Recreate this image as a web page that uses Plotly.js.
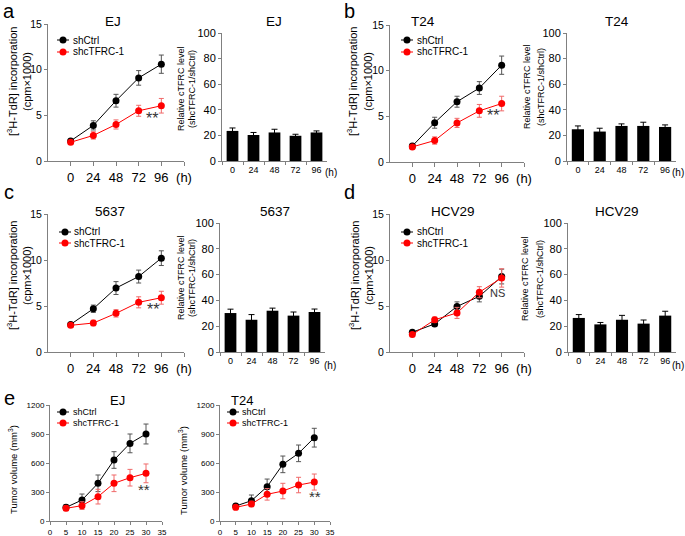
<!DOCTYPE html>
<html><head><meta charset="utf-8">
<script src="https://cdn.plot.ly/plotly-3.0.1.min.js"></script>
<style>html,body{margin:0;padding:0;background:#fff}#c{width:685px;height:536px}</style>
</head><body><div id="c"></div>
<script>
// ---------- data ----------
const hours = [0, 24, 48, 72, 96];
const hourLabels = ["0", "24", "48", "72", "96"];
const days = [5, 10, 15, 20, 25, 30];

const ejCtrl = [2.2, 3.9, 6.6, 9.1, 10.6];
const ejCtrlErr = [0.2, 0.5, 0.7, 0.8, 1.0];
const ejKd = [2.05, 2.8, 4.0, 5.5, 6.05];
const ejKdErr = [0.2, 0.4, 0.5, 0.6, 0.8];

const t24Ctrl = [1.75, 4.3, 6.6, 8.1, 10.6];
const t24CtrlErr = [0.2, 0.6, 0.6, 0.7, 1.0];
const t24Kd = [1.65, 2.35, 4.28, 5.6, 6.4];
const t24KdErr = [0.15, 0.4, 0.5, 0.7, 0.8];

const c5637Ctrl = [3.0, 4.7, 6.95, 8.2, 10.2];
const c5637CtrlErr = [0.2, 0.4, 0.7, 0.7, 0.8];
const c5637Kd = [2.9, 3.15, 4.2, 5.4, 5.9];
const c5637KdErr = [0.2, 0.3, 0.4, 0.6, 0.7];

const hcvCtrl = [2.15, 3.05, 4.95, 6.05, 8.2];
const hcvCtrlErr = [0.2, 0.2, 0.5, 0.6, 0.8];
const hcvKd = [1.9, 3.5, 4.25, 6.5, 8.05];
const hcvKdErr = [0.2, 0.3, 0.6, 0.6, 1.0];

const ejRel = [23.5, 20.3, 22.3, 19.7, 22.3];
const ejRelErr = [2.3, 2.0, 2.5, 1.2, 1.2];
const t24Rel = [24.8, 23, 27.4, 27.4, 26.6];
const t24RelErr = [2.6, 2.6, 1.6, 2.9, 1.6];
const c5637Rel = [30.2, 25, 32, 28.2, 31];
const c5637RelErr = [3, 4, 2, 2.8, 2.3];
const hcvRel = [26.4, 21.4, 25, 22, 28.2];
const hcvRelErr = [2.6, 1.5, 3.4, 2.8, 3.4];

const ejTumCtrl = [141, 217, 390, 631, 803, 900];
const ejTumCtrlErr = [25, 62, 86, 86, 97, 103];
const ejTumKd = [131, 159, 252, 390, 448, 493];
const ejTumKdErr = [25, 40, 76, 86, 86, 97];
const t24TumCtrl = [155, 210, 355, 586, 700, 862];
const t24TumCtrlErr = [20, 59, 79, 86, 86, 97];
const t24TumKd = [141, 176, 276, 310, 372, 403];
const t24TumKdErr = [20, 28, 60, 80, 80, 83];

// ---------- helpers ----------
const W = 685, H = 536;
const FONT = "Liberation Sans, Arial, sans-serif";
const xd = (a, b) => [a / W, b / W];
const yd = (t, b) => [1 - b / H, 1 - t / H];
const AX = "#808080";

const traces = [];
function lineTrace(n, x, y, e, color, ecolor) {
  traces.push({
    type: "scatter", mode: "lines+markers", x: x, y: y,
    xaxis: "x" + n, yaxis: "y" + n, showlegend: false,
    line: {color: color, width: 1},
    marker: {color: color, size: 7},
    error_y: {type: "data", array: e, visible: true, color: ecolor, thickness: 1, width: 2.5}
  });
}
function barTrace(n, y, e) {
  traces.push({
    type: "bar", x: hourLabels, y: y, xaxis: "x" + n, yaxis: "y" + n, showlegend: false,
    marker: {color: "#000"}, width: 0.56,
    error_y: {type: "data", array: e, visible: true, color: "#000", thickness: 1, width: 3}
  });
}

const layout = {
  width: W, height: H, margin: {l: 0, r: 0, t: 0, b: 0},
  paper_bgcolor: "#fff", plot_bgcolor: "rgba(0,0,0,0)",
  font: {family: FONT, color: "#000"},
  showlegend: false, annotations: [], shapes: []
};

function lineAxes(n, x0, x1, yt, yb) {
  layout["xaxis" + n] = {
    domain: xd(x0, x1), anchor: "y" + n, range: [-24, 120],
    tickvals: [0, 24, 48, 72, 96, 120], ticktext: ["0", "24", "48", "72", "96", "(h)"],
    showline: true, linecolor: AX, linewidth: 1, ticks: "outside", ticklen: 4, tickcolor: AX,
    showgrid: false, zeroline: false, tickfont: {size: 13, family: FONT}, fixedrange: true
  };
  layout["yaxis" + n] = {
    domain: yd(yt, yb), anchor: "x" + n, range: [0, 15], tickvals: [0, 5, 10, 15],
    showline: true, linecolor: AX, linewidth: 1, ticks: "outside", ticklen: 3, tickcolor: AX,
    showgrid: false, zeroline: false, tickfont: {size: 10.5, family: FONT}, fixedrange: true
  };
}
function barAxes(n, x0, x1, yt, yb) {
  layout["xaxis" + n] = {
    domain: xd(x0, x1), anchor: "y" + n, type: "category", range: [-0.5, 4.5],
    tickson: "boundaries", showline: true, linecolor: AX, linewidth: 1, ticks: "outside",
    ticklen: 3, tickcolor: AX, showgrid: false, zeroline: false,
    tickfont: {size: 9, family: FONT}, fixedrange: true
  };
  layout["yaxis" + n] = {
    domain: yd(yt, yb), anchor: "x" + n, range: [0, 100], tickvals: [0, 20, 40, 60, 80, 100],
    showline: true, linecolor: AX, linewidth: 1, ticks: "outside", ticklen: 3, tickcolor: AX,
    showgrid: false, zeroline: false, tickfont: {size: 11, family: FONT}, fixedrange: true
  };
}
function tumAxes(n, x0, x1, yt, yb) {
  layout["xaxis" + n] = {
    domain: xd(x0, x1), anchor: "y" + n, range: [0, 35], tickvals: [0, 5, 10, 15, 20, 25, 30, 35],
    showline: true, linecolor: AX, linewidth: 1, ticks: "outside", ticklen: 3, tickcolor: AX,
    showgrid: false, zeroline: false, tickfont: {size: 8, family: FONT}, fixedrange: true
  };
  layout["yaxis" + n] = {
    domain: yd(yt, yb), anchor: "x" + n, range: [0, 1200], tickvals: [0, 300, 600, 900, 1200],
    showline: true, linecolor: AX, linewidth: 1, ticks: "outside", ticklen: 3, tickcolor: AX,
    showgrid: false, zeroline: false, tickfont: {size: 8, family: FONT}, fixedrange: true
  };
}

function ann(x, y, text, size, opts) {
  layout.annotations.push(Object.assign({
    xref: "paper", yref: "paper", x: x / W, y: 1 - y / H, text: text, showarrow: false,
    xanchor: "center", yanchor: "middle", font: {size: size, family: FONT, color: "#000"}
  }, opts || {}));
}
function legend(mx, y1, y2, tx, size) {
  [[y1, "#000", "shCtrl"], [y2, "#ff0000", "shcTFRC-1"]].forEach(([y, c, t]) => {
    layout.shapes.push({type: "line", xref: "paper", yref: "paper", x0: (mx - 6) / W, x1: (mx + 6) / W,
      y0: 1 - y / H, y1: 1 - y / H, line: {color: c, width: 1}});
    layout.shapes.push({type: "circle", xref: "paper", yref: "paper", x0: (mx - 3.5) / W, x1: (mx + 3.5) / W,
      y0: 1 - (y + 3.5) / H, y1: 1 - (y - 3.5) / H, fillcolor: c, line: {color: c, width: 0}});
    ann(tx, y, t, size, {xanchor: "left"});
  });
}

// ---------- panels ----------
const RED = "#ff0000", RERR = "#f06a6a", KERR = "#555";
// a
lineAxes(1, 48, 184, 24, 161);
lineTrace(1, hours, ejCtrl, ejCtrlErr, "#000", KERR);
lineTrace(1, hours, ejKd, ejKdErr, RED, RERR);
barAxes(2, 222, 327, 33, 161);
barTrace(2, ejRel, ejRelErr);
// b
lineAxes(3, 390, 524, 25, 162);
lineTrace(3, hours, t24Ctrl, t24CtrlErr, "#000", KERR);
lineTrace(3, hours, t24Kd, t24KdErr, RED, RERR);
barAxes(4, 567, 676, 33, 161);
barTrace(4, t24Rel, t24RelErr);
// c
lineAxes(5, 48, 184, 214, 352);
lineTrace(5, hours, c5637Ctrl, c5637CtrlErr, "#000", KERR);
lineTrace(5, hours, c5637Kd, c5637KdErr, RED, RERR);
barAxes(6, 220, 325, 223, 352);
barTrace(6, c5637Rel, c5637RelErr);
// d
lineAxes(7, 390, 524, 214, 352);
lineTrace(7, hours, hcvCtrl, hcvCtrlErr, "#000", KERR);
lineTrace(7, hours, hcvKd, hcvKdErr, RED, RERR);
barAxes(8, 568, 676, 223, 352);
barTrace(8, hcvRel, hcvRelErr);
// e
tumAxes(9, 50, 162, 405, 521);
lineTrace(9, days, ejTumCtrl, ejTumCtrlErr, "#000", KERR);
lineTrace(9, days, ejTumKd, ejTumKdErr, RED, RERR);
tumAxes(10, 220, 330, 405, 521);
lineTrace(10, days, t24TumCtrl, t24TumCtrlErr, "#000", KERR);
lineTrace(10, days, t24TumKd, t24TumKdErr, RED, RERR);

// panel letters
ann(9, 11, "a", 20); ann(349, 11, "b", 20); ann(9, 192, "c", 20); ann(349, 192, "d", 20); ann(9, 398, "e", 20);
// titles
ann(113, 22, "EJ", 13.5); ann(274, 22, "EJ", 13.5);
ann(423, 22, "T24", 13.5); ann(617, 21, "T24", 13.5);
ann(110, 212, "5637", 13.5); ann(275, 212, "5637", 13.5);
ann(453, 212, "HCV29", 13.5); ann(617, 212, "HCV29", 13.5);
ann(117, 400, "EJ", 13); ann(242, 400, "T24", 13);
// y titles (each line separately)
const lt1 = "[<sup>3</sup>H-TdR] incorporation", lt2 = "(cpm×1000)";
function lineTitle(x1, x2, y) {
  ann(x1, y, lt1, 11, {textangle: -90});
  ann(x2, y, lt2, 11, {textangle: -90});
}
lineTitle(12, 27, 82);
lineTitle(352, 368, 82);
lineTitle(12, 27, 276);
lineTitle(354, 369, 276);
const bt1 = "Relative cTFRC level", bt2 = "(shcTFRC-1/shCtrl)";
function barTitle(x1, x2, y) {
  ann(x1, y, bt1, 9, {textangle: -90});
  ann(x2, y, bt2, 9, {textangle: -90});
}
barTitle(181, 192, 89);
barTitle(527, 541, 87);
barTitle(181, 192, 278);
barTitle(525, 540, 279);
ann(13, 470, "Tumor volume (mm<sup>3</sup>)", 9.5, {textangle: -90});
ann(183, 470, "Tumor volume (mm<sup>3</sup>)", 9.5, {textangle: -90});
// (h) for bar panels
ann(331, 173, "(h)", 10); ann(678, 173, "(h)", 10);
ann(330, 365, "(h)", 10); ann(678, 365, "(h)", 10);
// legends
legend(63, 40, 52, 71, 10);
legend(407, 40, 52, 415, 10);
legend(65, 232, 243, 72, 10);
legend(407, 232, 243, 415, 10);
legend(63, 412, 423, 71, 9);
legend(233, 412, 423, 240, 9);
// significance
const SIG = "#333";
ann(152, 119, "**", 16, {font: {size: 16, family: FONT, color: SIG}});
ann(493, 116, "**", 16, {font: {size: 16, family: FONT, color: SIG}});
ann(153, 309, "**", 16, {font: {size: 16, family: FONT, color: SIG}});
ann(497, 293, "NS", 11, {font: {size: 11, family: FONT, color: SIG}});
ann(144, 489, "**", 15, {font: {size: 15, family: FONT, color: SIG}});
ann(315, 496, "**", 15, {font: {size: 15, family: FONT, color: SIG}});

Plotly.newPlot("c", traces, layout, {staticPlot: true, displayModeBar: false});
</script></body></html>
